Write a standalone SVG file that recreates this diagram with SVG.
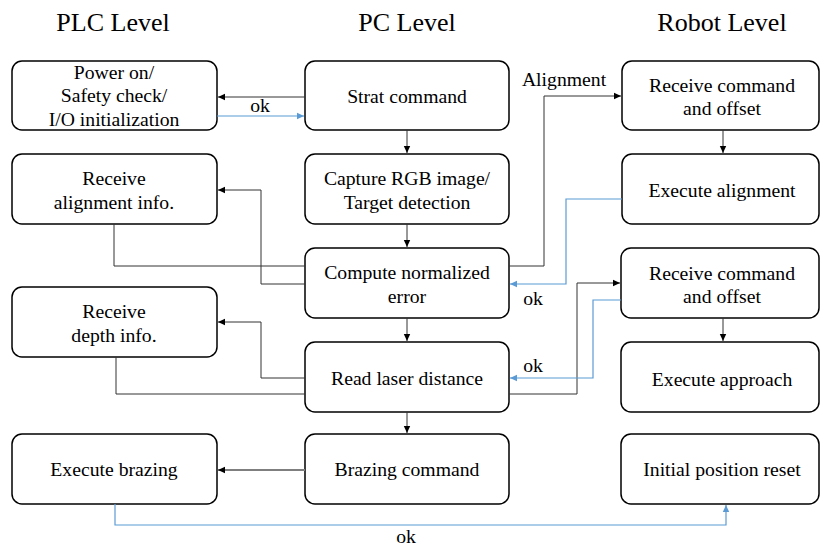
<svg xmlns="http://www.w3.org/2000/svg" width="820" height="548" viewBox="0 0 820 548">
<style>
.box{fill:#fff;stroke:#000;stroke-width:1.5}
.k{fill:none;stroke:#333;stroke-width:1}
.b{fill:none;stroke:#5b9bd5;stroke-width:1.2}
.g{fill:none;stroke:#7f7f7f;stroke-width:2}
</style>
<defs>
<marker id="ak" markerWidth="8" markerHeight="8" refX="7" refY="4" orient="auto" markerUnits="userSpaceOnUse"><path d="M0,0.8 L7,4 L0,7.2 Z" fill="#000"/></marker>
<marker id="ab" markerWidth="8" markerHeight="8" refX="7" refY="4" orient="auto" markerUnits="userSpaceOnUse"><path d="M0,0.8 L7,4 L0,7.2 Z" fill="#5b9bd5"/></marker>
</defs>
<rect width="820" height="548" fill="#fff"/>
<g font-family="Times New Roman, Liberation Serif, serif" text-anchor="middle" fill="#000" font-size="26">
<text x="113" y="31">PLC Level</text>
<text x="407" y="31">PC Level</text>
<text x="722" y="31">Robot Level</text>
</g>
<g font-family="Times New Roman, Liberation Serif, serif" text-anchor="middle" fill="#000" font-size="19.7">
<g id="plc1"><rect class="box" x="12" y="61" width="205" height="69" rx="10"/><text x="114" y="79">Power on/</text><text x="114" y="102">Safety check/</text><text x="114" y="126">I/O initialization</text></g>
<g id="plc2"><rect class="box" x="12" y="154" width="205" height="70" rx="10"/><text x="114" y="185">Receive</text><text x="114" y="209">alignment  info.</text></g>
<g id="plc3"><rect class="box" x="12" y="287" width="205" height="70" rx="10"/><text x="114" y="318">Receive</text><text x="114" y="342">depth info.</text></g>
<g id="plc4"><rect class="box" x="12" y="434" width="205" height="70" rx="10"/><text x="114" y="476">Execute brazing</text></g>

<g id="pc1"><rect class="box" x="305" y="61" width="204" height="69" rx="10"/><text x="407" y="103">Strat command</text></g>
<g id="pc2"><rect class="box" x="305" y="154" width="204" height="70" rx="10"/><text x="407" y="185">Capture RGB image/</text><text x="407" y="209">Target detection</text></g>
<g id="pc3"><rect class="box" x="305" y="248" width="204" height="70" rx="10"/><text x="407" y="279">Compute normalized</text><text x="407" y="303">error</text></g>
<g id="pc4"><rect class="box" x="305" y="342" width="204" height="70" rx="10"/><text x="407" y="385">Read laser distance</text></g>
<g id="pc5"><rect class="box" x="305" y="434" width="204" height="70" rx="10"/><text x="407" y="476">Brazing  command</text></g>

<g id="r1"><rect class="box" x="622" y="61" width="197" height="69" rx="10"/><text x="722" y="92">Receive command</text><text x="722" y="115">and offset</text></g>
<g id="r2"><rect class="box" x="622" y="154" width="197" height="70" rx="10"/><text x="722" y="197">Execute alignment</text></g>
<g id="r3"><rect class="box" x="621" y="248" width="198" height="70" rx="10"/><text x="722" y="280">Receive command</text><text x="722" y="303">and offset</text></g>
<g id="r4"><rect class="box" x="621" y="342" width="198" height="70" rx="10"/><text x="722" y="386">Execute approach</text></g>
<g id="r5"><rect class="box" x="621" y="434" width="198" height="70" rx="10"/><text x="722" y="476">Initial position reset</text></g>

<g id="connectors">
<path class="k" d="M305,97 H218" marker-end="url(#ak)"/>
<path class="b" d="M217,116 H304" marker-end="url(#ab)"/>
<text x="260" y="112">ok</text>
<path class="k" d="M407,130 V153" marker-end="url(#ak)"/>
<path class="k" d="M407,224 V247" marker-end="url(#ak)"/>
<path class="k" d="M407,318 V341" marker-end="url(#ak)"/>
<path class="k" d="M407,412 V433" marker-end="url(#ak)"/>
<path class="k" d="M305,284 H261 V190 H218" marker-end="url(#ak)"/>
<path class="k" d="M114,224 V266 H305"/>
<path class="k" d="M305,378 H261 V322 H218" marker-end="url(#ak)"/>
<path class="k" d="M116,357 V394 H305"/>
<path class="k" d="M509,266 H544 V96 H621" marker-end="url(#ak)"/>
<text x="564" y="86">Alignment</text>
<path class="k" d="M723,130 V153" marker-end="url(#ak)"/>
<path class="b" d="M622,199 H566 V284 H510" marker-end="url(#ab)"/>
<text x="533" y="305">ok</text>
<path class="k" d="M509,394 H577 V283 H620" marker-end="url(#ak)"/>
<path class="b" d="M621,300 H593 V378 H510" marker-end="url(#ab)"/>
<text x="533" y="372">ok</text>
<path class="k" d="M723,318 V341" marker-end="url(#ak)"/>
<path class="g" d="M305,470 H218" marker-end="url(#ak)"/>
<path class="b" d="M115,504 V525 H726 V505" marker-end="url(#ab)"/>
<text x="406" y="543">ok</text>
</g>
</g>
</svg>
